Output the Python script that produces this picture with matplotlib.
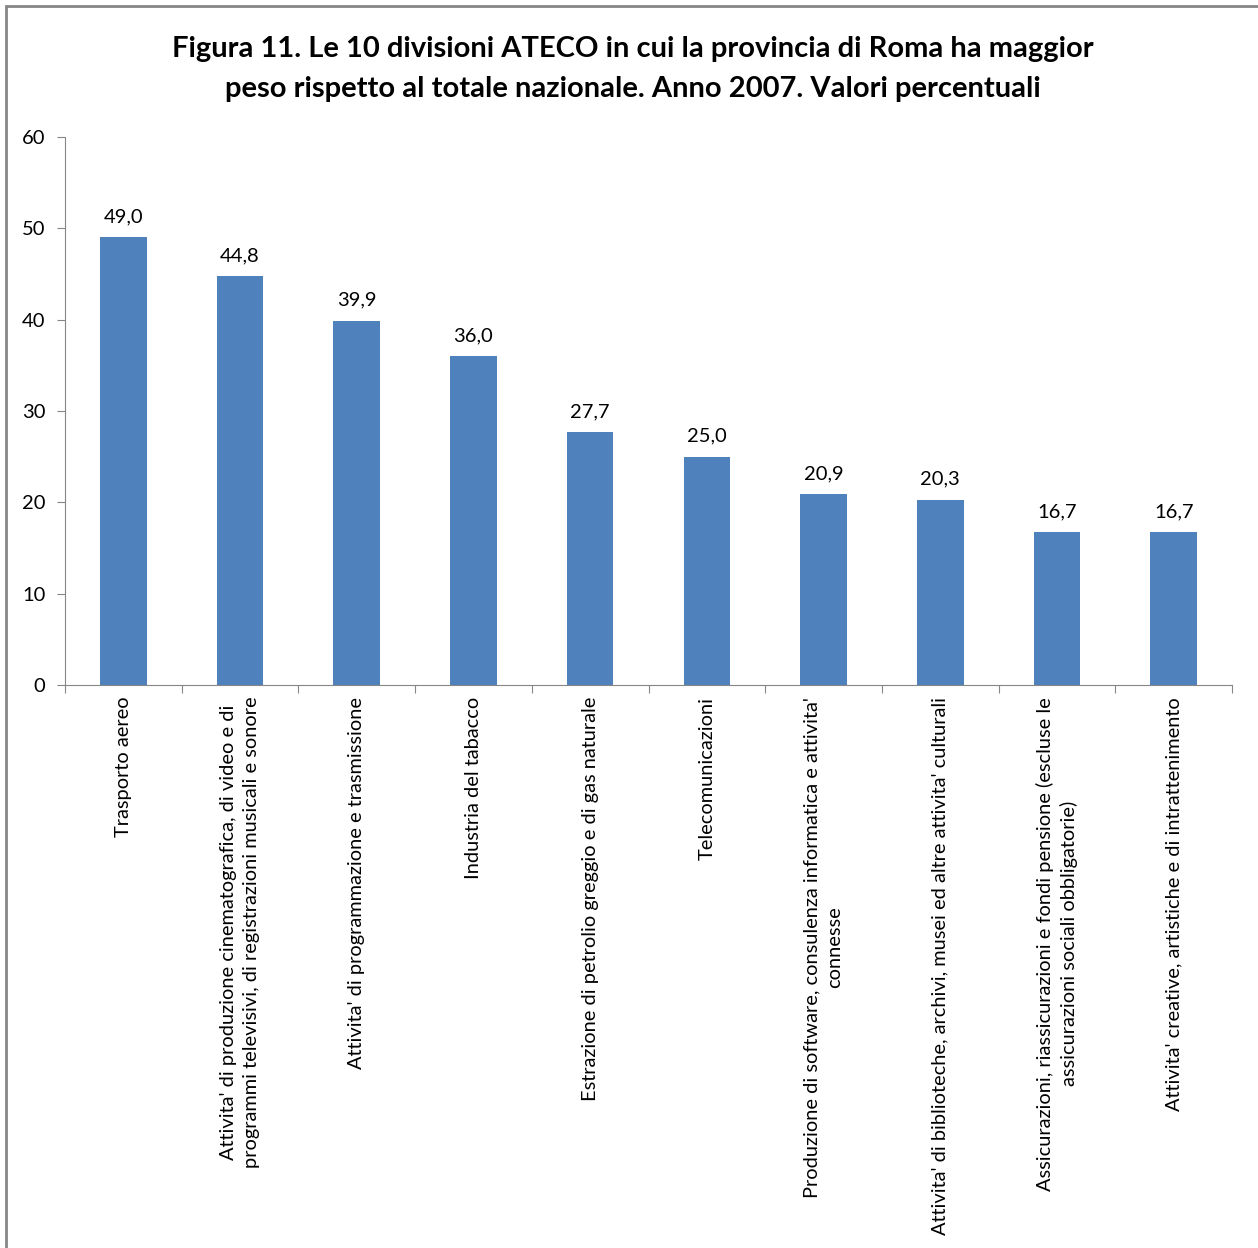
import numpy as np
import matplotlib.pyplot as plt
from matplotlib.patches import Rectangle

plt.rcParams['font.family'] = ['Lato', 'DejaVu Sans']

categorie = [
    "Trasporto aereo",
    "Attivita' di produzione cinematografica, di video e di\nprogrammi televisivi, di registrazioni musicali e sonore",
    "Attivita' di programmazione e trasmissione",
    "Industria del tabacco",
    "Estrazione di petrolio greggio e di gas naturale",
    "Telecomunicazioni",
    "Produzione di software, consulenza informatica e attivita'\nconnesse",
    "Attivita' di biblioteche, archivi, musei ed altre attivita' culturali",
    "Assicurazioni, riassicurazioni e fondi pensione (escluse le\nassicurazioni sociali obbligatorie)",
    "Attivita' creative, artistiche e di intrattenimento",
]
valori = [49.0, 44.8, 39.9, 36.0, 27.7, 25.0, 20.9, 20.3, 16.7, 16.7]
y_ticks = [0, 10, 20, 30, 40, 50, 60]

W, H = 1258, 1248
fig = plt.figure(figsize=(W / 100, H / 100), dpi=100)
ax = fig.add_axes([65 / W, 1 - 685 / H, (1232 - 65) / W, (685 - 137) / H])

x = np.arange(len(valori))
bars = ax.bar(x, valori, width=0.4, color='#4F81BD', zorder=2)

for xi, v in zip(x, valori):
    ax.text(xi, v + 1.3, f"{v:.1f}".replace('.', ','), ha='center', va='bottom',
            fontsize=14.5)

ax.set_xlim(-0.5, len(valori) - 0.5)
ax.set_ylim(0, 60)
ax.set_yticks(y_ticks)
ax.tick_params(axis='y', labelsize=14.5, length=6, color='#868686', pad=8)

# ticks on the category boundaries, labels centred on the bars
ax.set_xticks(np.arange(len(valori) + 1) - 0.5)
ax.set_xticklabels([])
ax.tick_params(axis='x', length=6, color='#868686')
for xi, lab in zip(x, categorie):
    ax.text(xi, -1.3, lab, rotation=90, ha='center', va='top',
            multialignment='center', fontsize=14.4, linespacing=1.4)

for s in ['top', 'right']:
    ax.spines[s].set_visible(False)
for s in ['left', 'bottom']:
    ax.spines[s].set_color('#868686')

fig.text(0.503, 1 - 69 / H,
         "Figura 11. Le 10 divisioni ATECO in cui la provincia di Roma ha maggior\n"
         "peso rispetto al totale nazionale. Anno 2007. Valori percentuali",
         ha='center', va='center', fontsize=21, fontweight='bold', linespacing=1.65)

# chart frame
fig.patches.append(Rectangle((6 / W, -0.1), 1.2, 1 - 6 / H + 0.1,
                             transform=fig.transFigure, fill=False,
                             edgecolor='#868686', linewidth=2))

fig.savefig("out.png", dpi=100)
